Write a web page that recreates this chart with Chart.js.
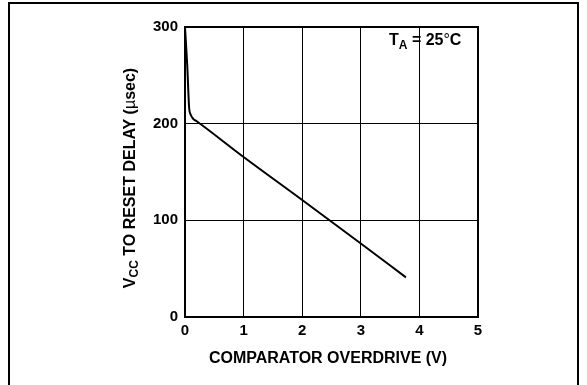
<!DOCTYPE html>
<html>
<head>
<meta charset="utf-8">
<script src="https://cdn.jsdelivr.net/npm/chart.js@4.4.0/dist/chart.umd.min.js"></script>
<style>
    html, body { margin: 0; padding: 0; background: #fff; }
    #wrap { position: relative; width: 587px; height: 385px; overflow: hidden; }
    #frame { position: absolute; left: 8px; top: 2px; width: 567px; height: 420px; border: 2px solid #000; }
    canvas { position: absolute; left: 0; top: 0; }
</style>
</head>
<body>
<div id="wrap">
    <div id="frame"></div>
    <canvas id="delay-chart" width="587" height="385"></canvas>
</div>
<script>
// Comparator overdrive (V) vs Vcc-to-reset delay (usec)
const overdrive = [0, 0.04, 0.07, 0.1, 0.14, 0.2, 1, 2, 3, 3.77];
const delay = [300, 258, 217, 209, 205, 202.5, 165.5, 121, 76, 41];

const xTicks = [0, 1, 2, 3, 4, 5];
const yTicks = [0, 100, 200, 300];

const FONT = '"Liberation Sans", Arial, Helvetica, sans-serif';

// Draws the frame around the plot plus titles with subscripts
const decorPlugin = {
    id: 'decor',
    afterDraw(chart) {
        const { ctx, chartArea: a } = chart;
        ctx.save();
        ctx.strokeStyle = '#000';
        ctx.lineWidth = 2;
        ctx.strokeRect(a.left, a.top, a.right - a.left, a.bottom - a.top);

        ctx.fillStyle = '#000';
        ctx.textBaseline = 'alphabetic';

        // T_A = 25°C
        let x = 389, y = 45;
        ctx.font = 'bold 16px ' + FONT;
        ctx.fillText('T', x, y);
        x += ctx.measureText('T').width;
        ctx.font = 'bold 12px ' + FONT;
        ctx.fillText('A', x, y + 4);
        x += ctx.measureText('A').width;
        ctx.font = 'bold 16px ' + FONT;
        ctx.fillText(' = 25', x, y);
        x += ctx.measureText(' = 25').width;
        ctx.font = '16px ' + FONT;
        ctx.fillText('\u00B0', x, y);
        x += ctx.measureText('\u00B0').width;
        ctx.font = 'bold 16px ' + FONT;
        ctx.fillText('C', x, y);

        // x axis title
        ctx.font = 'bold 16px ' + FONT;
        ctx.textAlign = 'center';
        ctx.fillText('COMPARATOR OVERDRIVE (V)', 328, 363);

        // y axis title, rotated
        const parts = [
            { t: 'V', f: 'bold 16px ', dy: 0 },
            { t: 'CC', f: 'bold 12px ', dy: 3 },
            { t: ' TO RESET DELAY (', f: 'bold 16px ', dy: 0 },
            { t: '\u00B5', f: '16px ', dy: 0 },
            { t: 'sec)', f: 'bold 16px ', dy: 0 }
        ];
        let total = 0;
        parts.forEach(p => { ctx.font = p.f + FONT; total += ctx.measureText(p.t).width; });
        ctx.translate(135, 178);
        ctx.rotate(-Math.PI / 2);
        ctx.textAlign = 'left';
        let px = -total / 2;
        parts.forEach(p => {
            ctx.font = p.f + FONT;
            ctx.fillText(p.t, px, p.dy);
            px += ctx.measureText(p.t).width;
        });
        ctx.restore();
    }
};

new Chart(document.getElementById('delay-chart'), {
    type: 'scatter',
    data: {
        datasets: [{
            data: overdrive.map((v, i) => ({ x: v, y: delay[i] })),
            showLine: true,
            borderColor: '#000',
            borderWidth: 2,
            pointRadius: 0,
            tension: 0.3,
            cubicInterpolationMode: 'monotone'
        }]
    },
    options: {
        responsive: false,
        animation: false,
        layout: { padding: { left: 0, top: 27, right: 109, bottom: 0 } },
        plugins: { legend: { display: false }, tooltip: { enabled: false } },
        scales: {
            x: {
                type: 'linear',
                min: 0,
                max: 5,
                afterFit: s => { s.height = 68; },
                afterBuildTicks: s => { s.ticks = xTicks.map(v => ({ value: v })); },
                grid: { color: '#000', lineWidth: 1, drawTicks: false },
                border: { color: '#000', width: 2 },
                ticks: {
                    padding: 5,
                    color: '#000',
                    font: { family: FONT, size: 15, weight: 'bold' }
                }
            },
            y: {
                type: 'linear',
                min: 0,
                max: 300,
                afterFit: s => { s.width = 185; },
                afterBuildTicks: s => { s.ticks = yTicks.map(v => ({ value: v })); },
                grid: { color: '#000', lineWidth: 1, drawTicks: false },
                border: { color: '#000', width: 2 },
                ticks: {
                    padding: 7,
                    color: '#000',
                    font: { family: FONT, size: 15, weight: 'bold' }
                }
            }
        }
    },
    plugins: [decorPlugin]
});
</script>
</body>
</html>
